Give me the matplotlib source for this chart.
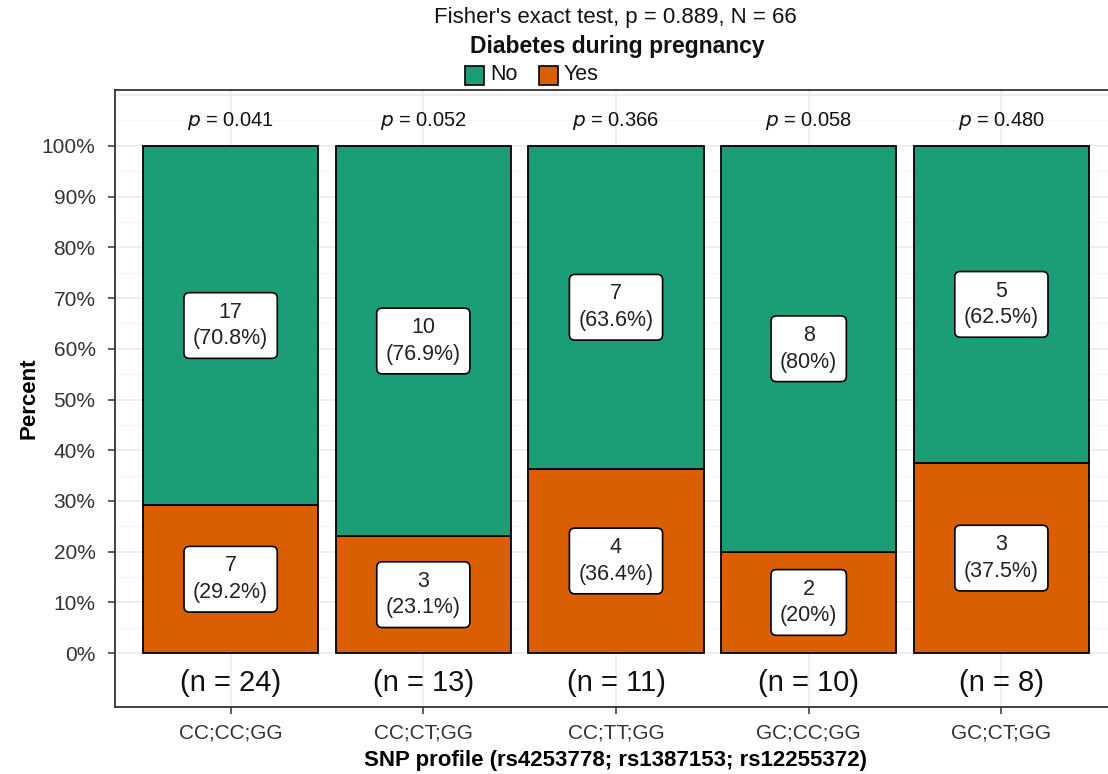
import numpy as np
import matplotlib
matplotlib.use("Agg")
import matplotlib.pyplot as plt
from matplotlib.ticker import FuncFormatter

plt.rcParams['font.family'] = ['Liberation Sans', 'DejaVu Sans']

# data
profiles = ["CC;CC;GG", "CC;CT;GG", "CC;TT;GG", "GC;CC;GG", "GC;CT;GG"]
count_no = [17, 10, 7, 8, 5]
count_yes = [7, 3, 4, 2, 3]
p_values = ["0.041", "0.052", "0.366", "0.058", "0.480"]
overall_title = "Fisher's exact test, p = 0.889, N = 66"

green = "#1B9E77"
orange = "#D95F02"

n = np.array(count_no) + np.array(count_yes)
pct_yes = np.array(count_yes) / n * 100
pct_no = np.array(count_no) / n * 100
x = np.arange(1, len(profiles) + 1)


def fmt_pct(v):
    return f"{round(v, 1):g}%"


fig = plt.figure(figsize=(11.08, 7.74), dpi=100)
ax = fig.add_axes([115 / 1108, 1 - 707 / 774, 1002 / 1108, 617 / 774])

# grid (ggplot theme_bw look)
for y in np.arange(0, 101, 10):
    ax.axhline(y, color="#EBEBEB", lw=1.1, zorder=0)
for y in np.arange(5, 111, 10):
    ax.axhline(y, color="#F4F4F4", lw=0.8, zorder=0)
ax.axhline(110, color="#EBEBEB", lw=1.1, zorder=0)
for xi in x:
    ax.axvline(xi, color="#EBEBEB", lw=1.1, zorder=0)

ax.bar(x, pct_yes, width=0.91, color=orange, edgecolor="black", lw=1.3, zorder=2)
ax.bar(x, pct_no, bottom=pct_yes, width=0.91, color=green, edgecolor="black", lw=1.3, zorder=2)

box = dict(boxstyle="round,pad=0.42,rounding_size=0.25", fc="white", ec="black", lw=1.2)
for i in range(len(x)):
    ax.text(x[i], pct_yes[i] / 2, f"{count_yes[i]}\n({fmt_pct(pct_yes[i])})",
            ha="center", va="center", fontsize=15.5, color="#222222",
            linespacing=1.35, bbox=box, zorder=4)
    ax.text(x[i], pct_yes[i] + pct_no[i] / 2, f"{count_no[i]}\n({fmt_pct(pct_no[i])})",
            ha="center", va="center", fontsize=15.5, color="#222222",
            linespacing=1.35, bbox=box, zorder=4)
    ax.text(x[i], 104.8, f"$p$ = {p_values[i]}", ha="center", va="center",
            fontsize=14.5, color="#111111", zorder=4)
    ax.text(x[i], -5.9, f"(n = {n[i]})", ha="center", va="center",
            fontsize=21, color="#111111", zorder=4)

ax.set_xlim(0.4, 5.6)
ax.set_ylim(-10.6, 111)
ax.set_xticks(x)
ax.set_xticklabels(profiles)
ax.set_yticks([v for v in range(0, 101, 10)])
ax.yaxis.set_major_formatter(FuncFormatter(lambda v, pos: f"{v:.0f}%"))
ax.tick_params(axis="both", labelsize=15, colors="#333333", length=5, width=1.1,
               labelcolor="#333333")
ax.tick_params(axis="x", pad=7)
ax.tick_params(axis="y", pad=9)
for s in ax.spines.values():
    s.set_color("#333333")
    s.set_linewidth(1.3)

ax.set_xlabel("SNP profile (rs4253778; rs1387153; rs12255372)", fontsize=16,
              fontweight="bold", labelpad=5)
ax.set_ylabel("Percent", fontsize=16, fontweight="bold", labelpad=2)

# header: test result and legend
fig.text(0.555, 1 - 18 / 774, overall_title, ha="center", va="center", fontsize=16, color="#111111")
fig.text(0.557, 1 - 46 / 774, "Diabetes during pregnancy", ha="center", va="center",
         fontsize=16.5, fontweight="bold", color="#111111")
legend_items = [("No", green, 465), ("Yes", orange, 539)]
for label, col, px in legend_items:
    fig.patches.append(plt.Rectangle((px / 1108, 1 - 85 / 774), 19 / 1108, 19 / 774,
                                     transform=fig.transFigure, fc=col, ec="black", lw=1.2))
    fig.text((px + 25) / 1108, 1 - 75 / 774, label, ha="left", va="center", fontsize=15.5, color="#111111")

fig.savefig("out.png", dpi=100)
